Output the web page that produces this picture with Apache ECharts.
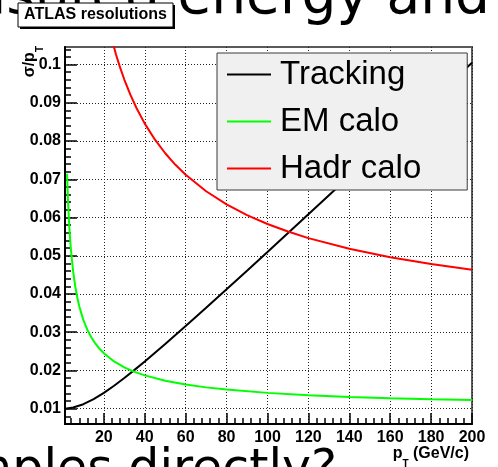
<!DOCTYPE html>
<html>
<head>
<meta charset="utf-8">
<script src="https://cdn.jsdelivr.net/npm/echarts@6/dist/echarts.min.js"></script>
<style>
  html, body { margin: 0; padding: 0; background: #ffffff; }
  #chart { width: 498px; height: 467px; }
</style>
</head>
<body>
<div id="chart"></div>
<script>
// Relative transverse-momentum resolution sigma/pT versus pT (GeV/c)
const pTTracking = [1, 5, 10, 15, 20, 25, 30, 35, 40, 50, 60, 70, 80, 90, 100, 120, 140, 160, 180, 200];
const sigmaTracking = [0.01001, 0.01031, 0.01118, 0.0125, 0.01414, 0.01601, 0.01803, 0.02016, 0.02236,
  0.02693, 0.03162, 0.0364, 0.04123, 0.0461, 0.05099, 0.06083, 0.07071, 0.08062, 0.09055, 0.1005];

const pTEM = [2, 2.5, 3, 3.5, 4, 5, 6, 7, 8, 10, 12, 14, 16, 18, 20, 25, 30, 35, 40, 50, 60, 70, 80,
  100, 120, 140, 160, 180, 200];
const sigmaEM = [0.07141, 0.06403, 0.0586, 0.05438, 0.05099, 0.04583, 0.04203, 0.0391, 0.03674, 0.03317,
  0.03055, 0.02854, 0.02693, 0.0256, 0.02449, 0.02236, 0.02082, 0.01964, 0.01871, 0.01732, 0.01633,
  0.01558, 0.015, 0.01414, 0.01354, 0.01309, 0.01275, 0.01247, 0.01225];

const pTHadr = [20, 22, 24, 26, 28, 30, 33, 36, 40, 45, 50, 55, 60, 70, 80, 90, 100, 110, 120, 140, 160, 180, 200];
const sigmaHadr = [0.1158, 0.1107, 0.1064, 0.1025, 0.09914, 0.09609, 0.09206, 0.08857, 0.08456, 0.08035,
  0.07681, 0.07379, 0.07118, 0.06687, 0.06344, 0.06065, 0.05831, 0.05633, 0.05462, 0.05182, 0.04962,
  0.04784, 0.04637];

const seriesNames = ['Tracking', 'EM calo', 'Hadr calo'];
const seriesColors = ['#000000', '#00ff00', '#ff0000'];

// Axis ranges and tick positions
const xRange = [1, 200];
const yRange = [0.006, 0.1046];
const xMajorTicks = [20, 40, 60, 80, 100, 120, 140, 160, 180, 200];
const xMinorTicks = [4, 8, 12, 16, 24, 28, 32, 36, 44, 48, 52, 56, 64, 68, 72, 76, 84, 88, 92, 96,
  104, 108, 112, 116, 124, 128, 132, 136, 144, 148, 152, 156, 164, 168, 172, 176, 184, 188, 192, 196];
const yMajorTicks = [0.01, 0.02, 0.03, 0.04, 0.05, 0.06, 0.07, 0.08, 0.09, 0.1];
const yTickLabels = ['0.01', '0.02', '0.03', '0.04', '0.05', '0.06', '0.07', '0.08', '0.09', '0.1'];
const yMinorTicks = [0.008, 0.012, 0.014, 0.016, 0.018, 0.022, 0.024, 0.026, 0.028, 0.032, 0.034, 0.036,
  0.038, 0.042, 0.044, 0.046, 0.048, 0.052, 0.054, 0.056, 0.058, 0.062, 0.064, 0.066, 0.068, 0.072,
  0.074, 0.076, 0.078, 0.082, 0.084, 0.086, 0.088, 0.092, 0.094, 0.096, 0.098, 0.102, 0.104];

const FONT = '"Liberation Sans", Arial, Helvetica, sans-serif';
const SLIDE_FONT = '"DejaVu Sans", sans-serif';

const chart = echarts.init(document.getElementById('chart'), null, { renderer: 'canvas' });

function labelFor(v) {
  let best = 0;
  for (let i = 1; i < yMajorTicks.length; i++) {
    if (Math.abs(yMajorTicks[i] - v) < Math.abs(yMajorTicks[best] - v)) best = i;
  }
  return yTickLabels[best];
}

const gridLine = { show: true, lineStyle: { color: '#222', width: 1, type: [1, 2] } };

const option = {
  animation: false,
  backgroundColor: '#ffffff',
  grid: {
    left: 65, top: 47, width: 407, height: 377,
    show: true, borderColor: '#5a5a5a', borderWidth: 2, backgroundColor: 'transparent'
  },
  xAxis: [
    {
      type: 'value', min: xRange[0], max: xRange[1], position: 'bottom',
      axisLine: { show: true, lineStyle: { color: '#000', width: 2 } },
      axisTick: { show: true, inside: true, length: 11, customValues: xMajorTicks, lineStyle: { color: '#000', width: 1.5 } },
      axisLabel: {
        show: true, customValues: xMajorTicks, margin: 6, color: '#000',
        fontFamily: FONT, fontWeight: 'bold', fontSize: 16
      },
      splitLine: gridLine
    },
    {
      type: 'value', min: xRange[0], max: xRange[1], position: 'bottom',
      axisLine: { show: false },
      axisTick: { show: true, inside: true, length: 6, customValues: xMinorTicks, lineStyle: { color: '#000', width: 1.5 } },
      axisLabel: { show: false },
      splitLine: { show: false }
    }
  ],
  yAxis: [
    {
      type: 'value', min: yRange[0], max: yRange[1], position: 'left',
      axisLine: { show: true, lineStyle: { color: '#000', width: 2 } },
      axisTick: { show: true, inside: true, length: 12, customValues: yMajorTicks, lineStyle: { color: '#000', width: 1.5 } },
      axisLabel: {
        show: true, customValues: yMajorTicks, margin: 4, color: '#000',
        fontFamily: FONT, fontWeight: 'bold', fontSize: 16,
        formatter: (v) => labelFor(v)
      },
      splitLine: gridLine
    },
    {
      type: 'value', min: yRange[0], max: yRange[1], position: 'left',
      axisLine: { show: false },
      axisTick: { show: true, inside: true, length: 6, customValues: yMinorTicks, lineStyle: { color: '#000', width: 1.5 } },
      axisLabel: { show: false },
      splitLine: { show: false }
    }
  ],
  legend: {
    orient: 'vertical', left: 217, top: 53,
    data: seriesNames,
    icon: 'rect',
    itemWidth: 44, itemHeight: 2, itemGap: 14,
    padding: [5, 46, 5, 10],
    backgroundColor: '#f0f0f0', borderColor: '#3a3a3a', borderWidth: 1,
    textStyle: { fontFamily: FONT, fontSize: 33, color: '#000', padding: [0, 0, 0, 4] }
  },
  series: [
    { pts: pTTracking, vals: sigmaTracking },
    { pts: pTEM, vals: sigmaEM },
    { pts: pTHadr, vals: sigmaHadr }
  ].map((s, i) => ({
    name: seriesNames[i],
    type: 'line',
    xAxisIndex: 0, yAxisIndex: 0,
    data: s.pts.map((x, k) => [x, s.vals[k]]),
    symbol: 'none', showSymbol: false,
    clip: true, z: 3,
    color: seriesColors[i],
    lineStyle: { color: seriesColors[i], width: 2 }
  })),
  graphic: [
    // Slide text lines around the plot
    {
      type: 'text', x: 490, y: -29, z: 0,
      style: { text: 'measured energy and', align: 'right', verticalAlign: 'top',
        font: '55px ' + SLIDE_FONT, fill: '#000' }
    },
    {
      type: 'text', x: 337, y: 447, z: 0,
      style: { text: 'samples directly?', align: 'right', verticalAlign: 'top',
        font: '49px ' + SLIDE_FONT, fill: '#000' }
    },
    // Title box with shadow
    { type: 'rect', z: 5, shape: { x: 20, y: 5, width: 155, height: 24 }, style: { fill: '#000' } },
    { type: 'rect', z: 6, shape: { x: 18, y: 3, width: 155, height: 24 }, style: { fill: '#fff', stroke: '#000', lineWidth: 1 } },
    {
      type: 'text', z: 7, x: 95.5, y: 15,
      style: { text: 'ATLAS resolutions', align: 'center', verticalAlign: 'middle',
        font: 'bold 16px ' + FONT, fill: '#000' }
    },
    // Axis titles
    {
      type: 'text', z: 7, x: 30, y: 46, rotation: Math.PI / 2,
      style: {
        text: '{a|σ/p}{b|T}', align: 'right', verticalAlign: 'middle',
        rich: {
          a: { fontFamily: FONT, fontWeight: 'bold', fontSize: 16, fill: '#000', lineHeight: 20 },
          b: { fontFamily: FONT, fontWeight: 'bold', fontSize: 10, fill: '#000', verticalAlign: 'bottom', lineHeight: 12, padding: [0, 0, -5, 0] }
        }
      }
    },
    {
      type: 'text', z: 7, x: 469, y: 454,
      style: {
        text: '{a|p}{b|T}{a| (GeV/c)}', align: 'right', verticalAlign: 'middle',
        rich: {
          a: { fontFamily: FONT, fontWeight: 'bold', fontSize: 16, fill: '#000', lineHeight: 20 },
          b: { fontFamily: FONT, fontWeight: 'bold', fontSize: 10, fill: '#000', verticalAlign: 'bottom', lineHeight: 12, padding: [0, 0, -5, 0] }
        }
      }
    }
  ]
};

chart.setOption(option);
</script>
</body>
</html>
